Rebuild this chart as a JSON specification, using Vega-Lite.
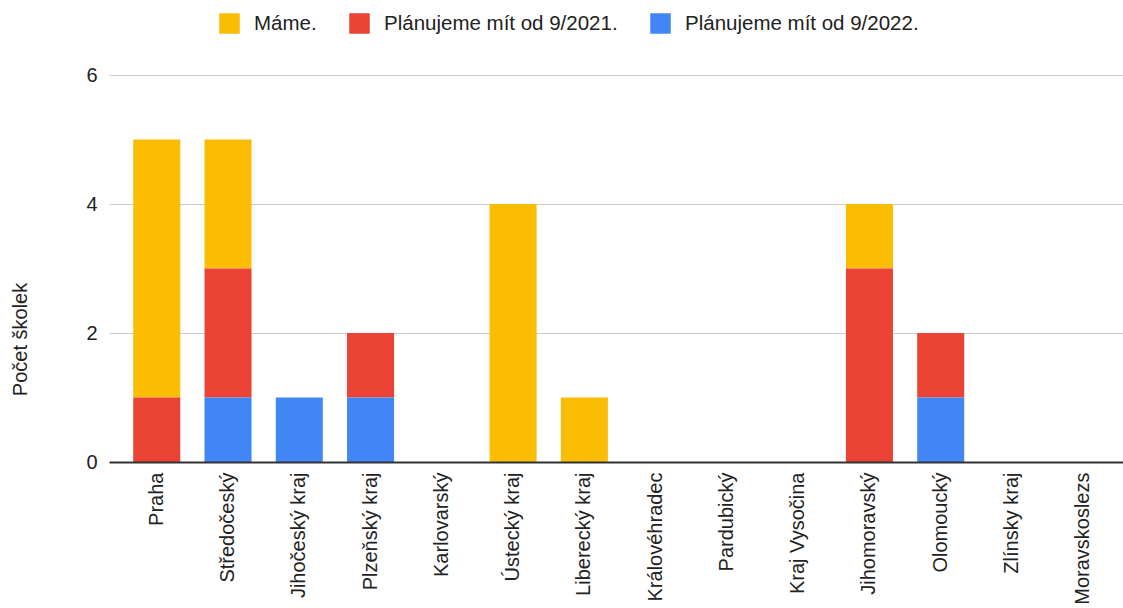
{
  "$schema": "https://vega.github.io/schema/vega-lite/v6.json",
  "autosize": "none",
  "width": 1022,
  "height": 387,
  "padding": {"left": 109, "top": 75, "right": 0, "bottom": 146},
  "background": "white",
  "config": {"font": "Liberation Sans", "view": {"stroke": null}},
  "data": {"values": [
    {"kraj": "Praha", "stav": "Máme.", "pocet": 4},
    {"kraj": "Praha", "stav": "Plánujeme mít od 9/2021.", "pocet": 1},
    {"kraj": "Středočeský", "stav": "Máme.", "pocet": 2},
    {"kraj": "Středočeský", "stav": "Plánujeme mít od 9/2021.", "pocet": 2},
    {"kraj": "Středočeský", "stav": "Plánujeme mít od 9/2022.", "pocet": 1},
    {"kraj": "Jihočeský kraj", "stav": "Plánujeme mít od 9/2022.", "pocet": 1},
    {"kraj": "Plzeňský kraj", "stav": "Plánujeme mít od 9/2021.", "pocet": 1},
    {"kraj": "Plzeňský kraj", "stav": "Plánujeme mít od 9/2022.", "pocet": 1},
    {"kraj": "Karlovarský", "stav": "Máme.", "pocet": 0},
    {"kraj": "Ústecký kraj", "stav": "Máme.", "pocet": 4},
    {"kraj": "Liberecký kraj", "stav": "Máme.", "pocet": 1},
    {"kraj": "Královéhradec", "stav": "Máme.", "pocet": 0},
    {"kraj": "Pardubický", "stav": "Máme.", "pocet": 0},
    {"kraj": "Kraj Vysočina", "stav": "Máme.", "pocet": 0},
    {"kraj": "Jihomoravský", "stav": "Máme.", "pocet": 1},
    {"kraj": "Jihomoravský", "stav": "Plánujeme mít od 9/2021.", "pocet": 3},
    {"kraj": "Olomoucký", "stav": "Plánujeme mít od 9/2021.", "pocet": 1},
    {"kraj": "Olomoucký", "stav": "Plánujeme mít od 9/2022.", "pocet": 1},
    {"kraj": "Zlínsky kraj", "stav": "Máme.", "pocet": 0},
    {"kraj": "Moravskoslezs", "stav": "Máme.", "pocet": 0}
  ]},
  "mark": {"type": "bar"},
  "encoding": {
    "x": {
      "field": "kraj", "type": "nominal", "sort": null,
      "scale": {"paddingInner": 0.34, "paddingOuter": 0.34},
      "axis": {"title": null, "labelAngle": -90, "labelFontSize": 20, "labelColor": "#222222",
               "labelPadding": 10, "labelLimit": 300, "ticks": false, "domainColor": "#333333", "domainWidth": 2, "zindex": 1}
    },
    "y": {
      "field": "pocet", "type": "quantitative", "stack": "zero",
      "scale": {"domain": [0, 6]},
      "axis": {"title": "Počet školek", "titleFontSize": 20, "titleFontWeight": "normal", "titleColor": "#222222",
               "titleAngle": -90, "titleX": -79, "titleY": 264, "titleAlign": "center", "titleBaseline": "bottom",
               "values": [0, 2, 4, 6], "labelFontSize": 20, "labelColor": "#222222", "labelPadding": 12,
               "ticks": false, "domain": false, "gridColor": "#cccccc"}
    },
    "color": {
      "field": "stav", "type": "nominal",
      "scale": {"domain": ["Máme.", "Plánujeme mít od 9/2021.", "Plánujeme mít od 9/2022."],
                "range": ["#FBBC04", "#EA4335", "#4285F4"]},
      "legend": {"title": null, "orient": "none", "direction": "horizontal", "legendX": 110, "legendY": -62,
                 "symbolType": "square", "symbolSize": 420, "symbolStrokeWidth": 0, "symbolOpacity": 1,
                 "labelFontSize": 20.5, "labelColor": "#222222", "labelLimit": 400, "columnPadding": 32, "labelOffset": 14}
    },
    "order": {"field": "stav", "sort": "descending"}
  }
}
